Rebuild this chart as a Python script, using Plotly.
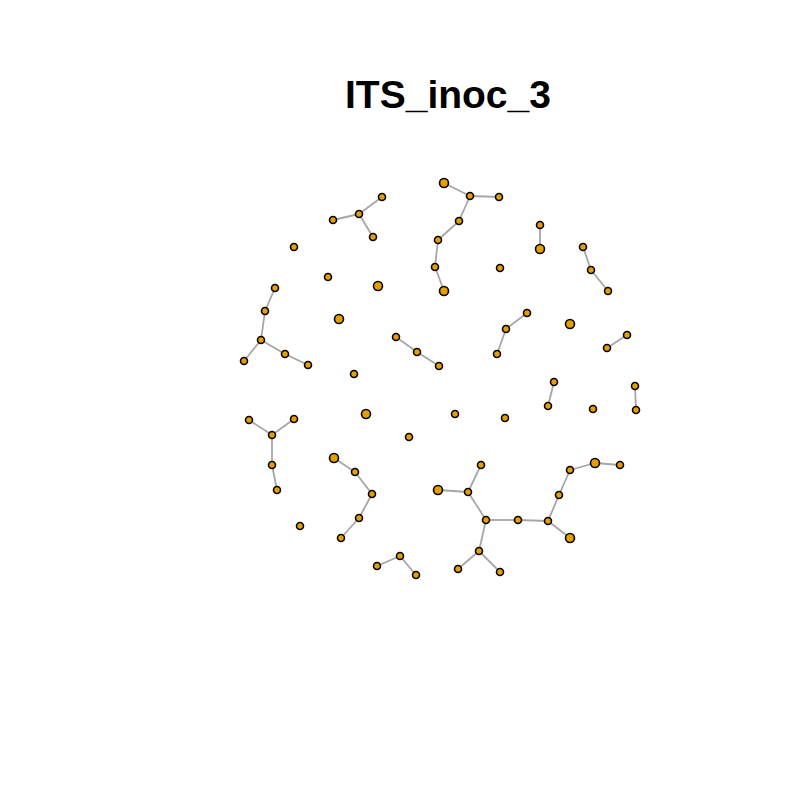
import plotly.graph_objects as go

# node layout coordinates (layout units, y grows downward)
node_x = [382, 359, 333, 373,
          444, 470, 499, 459, 438, 435, 444,
          540, 540,
          583, 591, 608,
          294, 328, 378, 500, 339, 570, 354, 366, 455, 505, 593, 409, 300,
          275, 265, 261, 244, 285, 308,
          396, 417, 439,
          527, 506, 497,
          627, 607,
          554, 548,
          635, 636,
          249, 272, 294, 272, 277,
          334, 355, 372, 359, 341,
          438, 468, 481, 486, 518, 548, 570, 559, 570, 595, 620, 479, 458, 500,
          377, 400, 416]
node_y = [197, 214, 220, 237,
          183, 196, 197, 221, 240, 267, 291,
          225, 249,
          247, 270, 291,
          247, 277, 286, 268, 319, 324, 374, 414, 414, 418, 409, 437, 526,
          288, 311, 340, 361, 354, 365,
          337, 352, 366,
          313, 329, 354,
          335, 348,
          382, 406,
          386, 410,
          420, 435, 419, 465, 490,
          458, 472, 494, 518, 538,
          490, 492, 465, 520, 520, 521, 538, 495, 470, 463, 465, 551, 569, 572,
          566, 556, 575]
big = {4, 10, 12, 18, 20, 21, 23, 52, 57, 63, 66}
node_size = [9 if i in big else 7 for i in range(len(node_x))]

edges = [(0, 1), (1, 2), (1, 3),
         (4, 5), (5, 6), (5, 7), (7, 8), (8, 9), (9, 10),
         (11, 12), (13, 14), (14, 15),
         (29, 30), (30, 31), (31, 32), (31, 33), (33, 34),
         (35, 36), (36, 37), (38, 39), (39, 40), (41, 42), (43, 44), (45, 46),
         (47, 48), (48, 49), (48, 50), (50, 51),
         (52, 53), (53, 54), (54, 55), (55, 56),
         (57, 58), (58, 59), (58, 60), (60, 61), (61, 62), (62, 63),
         (62, 64), (64, 65), (65, 66), (66, 67), (60, 68), (68, 69), (68, 70),
         (71, 72), (72, 73)]

ex, ey = [], []
for a, b in edges:
    ex += [node_x[a], node_x[b], None]
    ey += [node_y[a], node_y[b], None]

fig = go.Figure()
fig.add_trace(go.Scatter(x=ex, y=ey, mode="lines",
                         line=dict(color="#a6a6a6", width=1.8), hoverinfo="skip"))
fig.add_trace(go.Scatter(x=node_x, y=node_y, mode="markers",
                         marker=dict(size=node_size, color="#E69F00", opacity=1,
                                     line=dict(color="black", width=1.6))))

fig.update_layout(
    width=800, height=800, margin=dict(l=0, r=0, t=0, b=0),
    plot_bgcolor="white", paper_bgcolor="white", showlegend=False,
    xaxis=dict(range=[8, 808], visible=False),
    yaxis=dict(range=[808, 8], visible=False),
    title=dict(text="<b>ITS_inoc_3</b>", x=440 / 800, xanchor="center",
               y=1 - 86 / 800, yanchor="middle",
               font=dict(family="Liberation Sans", size=39, color="black")),
)

fig.write_html("out.html")
